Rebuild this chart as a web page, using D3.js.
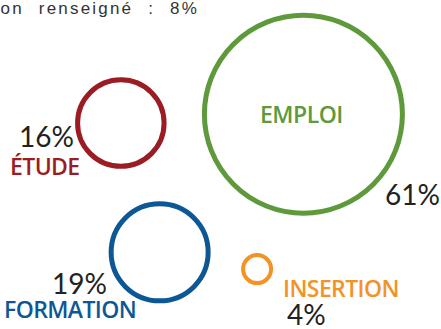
<!DOCTYPE html>
<html>
<head>
<meta charset="utf-8">
<script src="https://cdn.jsdelivr.net/npm/d3@7"></script>
<style>
  body { margin: 0; background: #fff; overflow: hidden; }
  svg { display: block; }
</style>
</head>
<body>
<script>
// data
var categories = ["EMPLOI", "ÉTUDE", "FORMATION", "INSERTION"];
var values = [61, 16, 19, 4];
var colors = ["#5e9a3b", "#9c1c24", "#0d5894", "#f39325"];
var unknownLabel = "Non renseigné";
var unknownValue = 8;

// layout: bubble centres (fractions of the page) and label placement
var layout = [
  {cx: 0.688, cy: 0.347, label: "inside", pct: [385, 205, "start"], name: null},
  {cx: 0.274, cy: 0.374, pct: [74, 147, "end"], name: [10, 175, "start"]},
  {cx: 0.362, cy: 0.767, pct: [107, 294, "end"], name: [4, 318, "start"]},
  {cx: 0.583, cy: 0.818, pct: [287, 325, "start"], name: [283, 297, "start"]}
];

var width = 441, height = 329;

var x = d3.scaleLinear().domain([0, 1]).range([0, width]);
var y = d3.scaleLinear().domain([0, 1]).range([0, height]);
var r = d3.scaleSqrt().domain([4, 61]).range([14, 99]);

var data = categories.map(function(c, i) {
  return {name: c, value: values[i], color: colors[i], pos: layout[i]};
});

var svg = d3.select("body").append("svg")
    .attr("width", width)
    .attr("height", height);

// top note, clipped on the left like the original
svg.append("text")
    .attr("x", 199)
    .attr("y", 14)
    .attr("text-anchor", "end")
    .style("font-family", "'Liberation Sans', Arial, sans-serif")
    .style("font-size", "17px")
    .style("letter-spacing", "2.2px")
    .style("word-spacing", "8px")
    .style("fill", "#333")
    .text(unknownLabel + " : " + unknownValue + "%");

var g = svg.selectAll(".bubble")
    .data(data)
  .enter().append("g")
    .attr("class", "bubble");

g.append("circle")
    .attr("cx", function(d) { return x(d.pos.cx); })
    .attr("cy", function(d) { return y(d.pos.cy); })
    .attr("r", function(d) { return r(d.value); })
    .attr("fill", "none")
    .attr("stroke", function(d) { return d.color; })
    .attr("stroke-width", function(d) { return d.value < 10 ? 4 : 5; });

g.append("text")
    .attr("x", function(d) { return d.pos.pct[0]; })
    .attr("y", function(d) { return d.pos.pct[1]; })
    .attr("text-anchor", function(d) { return d.pos.pct[2]; })
    .style("font-family", "Lato, 'Open Sans', sans-serif")
    .style("font-weight", 400)
    .style("font-size", "28px")
    .style("fill", "#222")
    .text(function(d) { return d.value + "%"; });

g.filter(function(d) { return d.pos.name; })
  .append("text")
    .attr("x", function(d) { return d.pos.name[0]; })
    .attr("y", function(d) { return d.pos.name[1]; })
    .attr("text-anchor", function(d) { return d.pos.name[2]; })
    .style("font-family", "'Open Sans', Lato, sans-serif")
    .style("font-weight", 600)
    .style("font-size", "23px")
    .style("letter-spacing", "-0.6px")
    .style("fill", function(d) { return d.color; })
    .text(function(d) { return d.name; });

g.filter(function(d) { return d.pos.label === "inside"; })
  .append("text")
    .attr("x", function(d) { return x(d.pos.cx) - 2; })
    .attr("y", 123)
    .attr("text-anchor", "middle")
    .style("font-family", "'Open Sans', Lato, sans-serif")
    .style("font-weight", 600)
    .style("font-size", "23px")
    .style("letter-spacing", "-0.5px")
    .style("fill", function(d) { return d.color; })
    .text(function(d) { return d.name; });
</script>
</body>
</html>
